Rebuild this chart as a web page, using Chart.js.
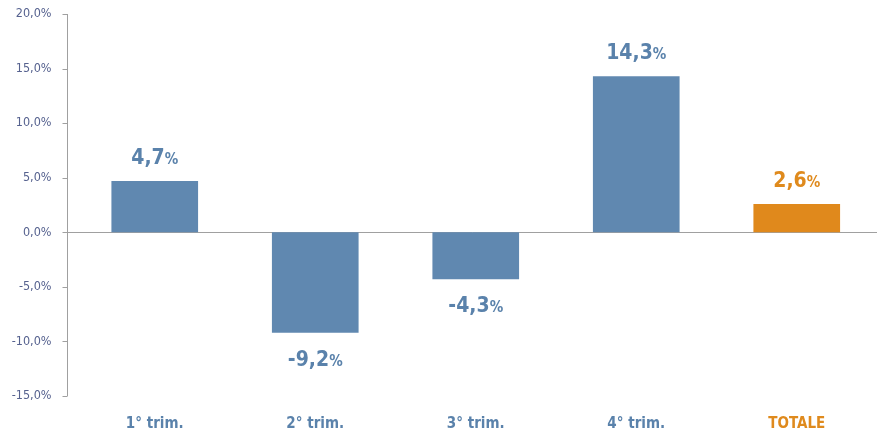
<!DOCTYPE html>
<html>
<head>
<meta charset="utf-8">
<script src="https://cdn.jsdelivr.net/npm/chart.js@4/dist/chart.umd.min.js"></script>
<style>
  html, body { margin: 0; padding: 0; background: #fff; }
  #wrap { width: 877px; height: 433px; }
</style>
</head>
<body>
<div id="wrap"><canvas id="chart"></canvas></div>
<script>
const categories = ["1° trim.", "2° trim.", "3° trim.", "4° trim.", "TOTALE"];
const values = [4.7, -9.2, -4.3, 14.3, 2.6];
const barColors = ["#6088b0", "#6088b0", "#6088b0", "#6088b0", "#e0891c"];
const labelColors = ["#5a82ab", "#5a82ab", "#5a82ab", "#5a82ab", "#df8a1d"];
const yTicks = [20, 15, 10, 5, 0, -5, -10, -15];

const narrow = "'Liberation Sans Narrow', 'DejaVu Sans Condensed', Arial, sans-serif";
const fmt = v => v.toFixed(1).replace(".", ",");
const AXIS_GAP = 7.5;

// axis line sits a bit left of the plot area, with short ticks on its left
const axisPlugin = {
  id: "axisLine",
  beforeDatasetsDraw(chart) {
    const { ctx, chartArea, scales } = chart;
    const y = scales.y;
    const x0 = Math.round(chartArea.left - AXIS_GAP) + 0.5;
    ctx.save();
    ctx.strokeStyle = "#a0a0a0";
    ctx.lineWidth = 1;
    ctx.beginPath();
    ctx.moveTo(x0, y.getPixelForValue(20));
    ctx.lineTo(x0, y.getPixelForValue(-15));
    yTicks.forEach(t => {
      const py = Math.round(y.getPixelForValue(t)) + 0.5;
      ctx.moveTo(x0 - 5, py);
      ctx.lineTo(x0, py);
    });
    const zy = Math.round(y.getPixelForValue(0)) + 0.5;
    ctx.moveTo(x0, zy);
    ctx.lineTo(chartArea.right, zy);
    ctx.stroke();
    ctx.restore();
  }
};

// bold value labels, the % sign a bit smaller
const valueLabels = {
  id: "valueLabels",
  afterDatasetsDraw(chart) {
    const { ctx } = chart;
    const meta = chart.getDatasetMeta(0);
    ctx.save();
    ctx.textBaseline = "alphabetic";
    ctx.textAlign = "left";
    meta.data.forEach((bar, i) => {
      const v = values[i];
      const num = fmt(v);
      ctx.font = "bold 21px " + narrow;
      const w1 = ctx.measureText(num).width;
      ctx.font = "bold 15px " + narrow;
      const w2 = ctx.measureText("%").width;
      const x = bar.x - (w1 + w2) / 2;
      const base = v >= 0 ? bar.y - 17 : bar.y + 33;
      ctx.fillStyle = labelColors[i];
      ctx.font = "bold 21px " + narrow;
      ctx.fillText(num, x, base);
      ctx.font = "bold 15px " + narrow;
      ctx.fillText("%", x + w1, base);
    });
    ctx.restore();
  }
};

new Chart(document.getElementById("chart"), {
  type: "bar",
  data: {
    labels: categories,
    datasets: [{
      data: values,
      backgroundColor: barColors,
      borderWidth: 0,
      barPercentage: 0.54,
      categoryPercentage: 1.0
    }]
  },
  plugins: [axisPlugin, valueLabels],
  options: {
    responsive: true,
    maintainAspectRatio: false,
    animation: false,
    layout: { padding: { top: 14, right: -3, bottom: 0, left: 0 } },
    plugins: {
      legend: { display: false },
      tooltip: { enabled: false }
    },
    scales: {
      x: {
        afterFit: s => { s.height = 37; },
        grid: { display: false },
        border: { display: false },
        ticks: {
          padding: 11,
          font: { family: narrow, size: 15, weight: "bold" },
          color: ctx => labelColors[ctx.index]
        }
      },
      y: {
        min: -15,
        max: 20,
        afterFit: s => { s.width = 74.5; s.paddingTop = 0; s.paddingBottom = 0; },
        afterBuildTicks: s => { s.ticks = yTicks.map(v => ({ value: v })); },
        grid: { display: false, drawTicks: false },
        border: { display: false },
        ticks: {
          padding: 23,
          font: { family: narrow, size: 12.5 },
          color: "#56628f",
          callback: v => fmt(v) + "%"
        }
      }
    }
  }
});
</script>
</body>
</html>
